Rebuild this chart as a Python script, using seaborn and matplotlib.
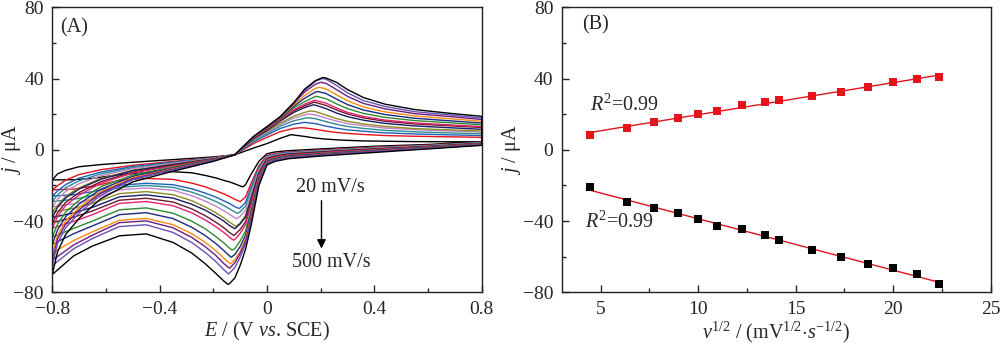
import numpy as np
import pandas as pd
import matplotlib
matplotlib.use("Agg")
import matplotlib.pyplot as plt
import seaborn as sns
from matplotlib.ticker import MultipleLocator, FixedLocator, FixedFormatter

# ---------------- data ----------------
scan_rates = [20, 40, 60, 80, 100, 120, 150, 180, 200, 250, 300, 350, 400, 450, 500]

# potential nodes of the forward (anodic) and reverse (cathodic) sweeps, V vs SCE
E_fwd = [-0.8, -0.78, -0.75, -0.7, -0.62, -0.5, -0.35, -0.2, -0.12, -0.05, 0.0, 0.05,
         0.1, 0.14, 0.18, 0.22, 0.26, 0.3, 0.36, 0.44, 0.55, 0.68, 0.8]
E_rev = [0.8, 0.6, 0.4, 0.2, 0.08, 0.03, 0.0, -0.03, -0.06, -0.08, -0.1, -0.12,
         -0.14, -0.16, -0.19, -0.23, -0.28, -0.35, -0.45, -0.55, -0.65, -0.72, -0.8]

# peak positions / currents (uA)
Epa = [0.09, 0.125, 0.14, 0.15, 0.155, 0.16, 0.17, 0.175, 0.178, 0.185, 0.19, 0.195, 0.2, 0.205, 0.208]
Ipa = [8.5, 12.4, 15.4, 18.0, 20.1, 21.8, 25.2, 26.7, 27.8, 30.0, 32.7, 35.1, 37.9, 40.0, 40.6]
Epc = [-0.09, -0.10, -0.105, -0.11, -0.113, -0.116, -0.12, -0.123, -0.125, -0.13, -0.133, -0.136, -0.14, -0.143, -0.146]
Ipc = [-20.8, -29.1, -32.9, -35.7, -38.7, -43.0, -44.3, -48.1, -50.7, -56.3, -60.3, -64.0, -66.5, -69.7, -75.5]

# forward sweep currents at E_fwd
fwd_20 = [-16.9, -13.5, -11.5, -9.5, -8.3, -7.0, -5.5, -4.0, -2.8, 1.0, 3.5, 6.5, 8.3, 7.5, 6.6, 6.0, 5.6, 5.3, 5.0, 4.8, 4.6, 4.5, 4.5]
fwd_40 = [-22.5, -20.1, -17.0, -13.9, -11.2, -8.7, -6.5, -4.4, -2.8, 3.5, 7.0, 10.2, 12.0, 12.3, 11.5, 10.5, 9.7, 9.2, 8.6, 8.0, 7.6, 7.3, 7.0]
fwd_60 = [-26.0, -23.1, -19.5, -15.9, -12.5, -9.4, -6.9, -4.6, -2.8, 4.5, 8.3, 12.0, 14.4, 15.4, 14.7, 13.3, 12.1, 11.2, 10.4, 9.5, 8.9, 8.4, 8.0]
fwd_80 = [-29.0, -25.3, -21.3, -17.4, -13.5, -10.0, -7.3, -4.7, -2.8, 5.2, 9.2, 13.3, 16.3, 17.7, 17.5, 15.8, 14.3, 13.1, 12.0, 10.9, 10.1, 9.5, 9.0]
fwd_100 = [-32.0, -27.7, -23.3, -19.0, -14.6, -10.6, -7.6, -4.8, -2.8, 5.7, 9.9, 14.3, 17.8, 19.6, 19.6, 17.8, 16.1, 14.7, 13.5, 12.2, 11.3, 10.6, 10.0]
fwd_120 = [-35.0, -31.2, -26.1, -21.3, -16.1, -11.5, -8.1, -5.0, -2.8, 6.0, 10.4, 15.0, 18.9, 21.0, 21.5, 19.5, 17.5, 16.0, 14.5, 13.1, 11.9, 11.2, 10.5]
fwd_150 = [-38.0, -32.2, -27.0, -22.0, -16.6, -11.7, -8.3, -5.1, -2.8, 6.3, 10.9, 16.2, 21.0, 23.7, 25.1, 23.1, 20.6, 18.6, 16.6, 14.8, 13.4, 12.4, 11.5]
fwd_180 = [-41.0, -35.2, -29.5, -24.0, -17.9, -12.5, -8.7, -5.2, -2.8, 6.6, 11.3, 16.7, 21.9, 24.7, 26.6, 24.9, 22.3, 20.1, 17.9, 16.0, 14.5, 13.5, 12.5]
fwd_200 = [-44.0, -37.3, -31.2, -25.4, -18.8, -13.0, -9.1, -5.4, -2.8, 6.8, 11.6, 17.0, 22.5, 25.6, 27.8, 26.2, 23.4, 21.0, 18.7, 16.7, 15.1, 14.0, 13.0]
fwd_250 = [-49.0, -41.7, -34.9, -28.3, -20.8, -14.1, -9.7, -5.6, -2.8, 7.0, 12.0, 17.5, 23.6, 27.0, 29.9, 28.7, 25.7, 23.1, 20.4, 18.2, 16.4, 15.2, 14.0]
fwd_300 = [-53.0, -44.9, -37.5, -30.4, -22.2, -14.9, -10.2, -5.8, -2.8, 7.1, 12.3, 17.9, 24.5, 28.9, 32.4, 31.6, 28.4, 25.4, 22.3, 19.8, 17.7, 16.3, 15.0]
fwd_350 = [-58.0, -47.9, -39.9, -32.4, -23.5, -15.7, -10.6, -6.0, -2.8, 7.2, 12.6, 18.2, 25.3, 30.5, 34.4, 34.2, 30.8, 27.5, 24.0, 21.3, 19.0, 17.5, 16.0]
fwd_400 = [-62.0, -49.8, -41.6, -33.7, -24.3, -16.2, -10.9, -6.1, -2.8, 7.3, 12.8, 18.5, 26.0, 32.4, 36.8, 37.3, 33.7, 30.0, 26.0, 23.0, 20.3, 18.7, 17.0]
fwd_450 = [-65.0, -52.4, -43.7, -35.4, -25.5, -16.8, -11.3, -6.2, -2.8, 7.4, 12.9, 18.6, 26.3, 33.4, 38.4, 39.6, 36.1, 32.0, 27.6, 24.3, 21.4, 19.6, 17.8]
fwd_500 = [-70.0, -57.0, -47.5, -38.5, -27.5, -18.0, -12.0, -6.5, -2.8, 7.5, 13.0, 18.7, 26.5, 34.0, 38.8, 40.3, 37.8, 33.8, 29.3, 25.6, 22.6, 20.5, 18.8]

# reverse sweep currents at E_rev
rev_20 = [4.5, 3.0, 2.0, 0.5, -0.5, -1.2, -2.2, -6.4, -13.9, -19.6, -20.3, -19.1, -18.0, -17.2, -15.8, -14.4, -12.9, -12.3, -12.8, -14.0, -16.0, -16.8, -16.9]
rev_40 = [4.2, 2.6, 1.5, -0.1, -1.2, -2.0, -3.2, -8.8, -19.1, -26.5, -29.0, -27.8, -26.2, -24.8, -23.0, -20.8, -18.7, -16.6, -16.1, -17.2, -20.5, -22.0, -22.5]
rev_60 = [4.1, 2.4, 1.2, -0.4, -1.5, -2.4, -3.6, -9.9, -21.3, -29.5, -32.6, -31.9, -30.1, -28.7, -26.6, -24.3, -21.9, -19.6, -18.8, -19.9, -23.5, -25.2, -26.0]
rev_80 = [4.0, 2.3, 1.0, -0.6, -1.7, -2.6, -3.9, -10.6, -23.0, -31.6, -34.8, -34.9, -33.1, -31.4, -29.1, -26.5, -23.8, -21.1, -20.0, -21.1, -25.6, -27.8, -29.0]
rev_100 = [3.8, 2.2, 0.9, -0.8, -2.0, -2.9, -4.3, -11.4, -24.7, -33.9, -37.3, -38.1, -36.2, -34.3, -31.7, -28.8, -25.8, -22.7, -21.4, -22.5, -27.7, -30.3, -32.0]
rev_120 = [3.7, 2.0, 0.6, -1.1, -2.3, -3.4, -4.8, -12.6, -27.0, -36.9, -41.1, -42.7, -40.6, -38.3, -35.4, -32.1, -28.6, -25.2, -23.5, -24.6, -30.0, -32.8, -35.0]
rev_150 = [3.6, 1.9, 0.5, -1.2, -2.4, -3.5, -4.9, -12.9, -27.8, -37.8, -41.6, -44.3, -42.5, -40.1, -37.3, -33.9, -30.6, -27.1, -25.3, -26.4, -32.3, -35.4, -38.0]
rev_180 = [3.5, 1.8, 0.3, -1.5, -2.7, -3.8, -5.3, -13.9, -29.8, -40.4, -44.7, -48.0, -46.4, -43.9, -40.7, -37.0, -33.2, -29.3, -27.2, -28.3, -34.3, -37.8, -41.0]
rev_200 = [3.4, 1.6, 0.1, -1.7, -3.0, -4.1, -5.6, -14.5, -31.2, -42.1, -46.9, -50.4, -49.1, -46.5, -43.2, -39.4, -35.4, -31.4, -29.0, -30.1, -36.4, -40.2, -44.0]
rev_250 = [3.2, 1.4, -0.3, -2.1, -3.4, -4.6, -6.3, -15.8, -34.1, -45.6, -51.2, -55.5, -55.2, -52.4, -48.8, -44.4, -40.1, -35.6, -32.6, -33.7, -40.0, -44.1, -49.0]
rev_300 = [3.1, 1.2, -0.5, -2.4, -3.7, -5.0, -6.7, -16.8, -36.1, -48.0, -54.3, -58.8, -59.5, -56.7, -52.7, -48.2, -43.5, -38.6, -35.3, -36.4, -42.7, -47.1, -53.0]
rev_350 = [2.9, 1.0, -0.8, -2.7, -4.1, -5.4, -7.2, -17.6, -37.8, -50.0, -57.0, -61.8, -63.6, -60.9, -56.7, -52.0, -47.1, -42.0, -38.5, -39.6, -46.0, -50.9, -58.0]
rev_400 = [2.8, 0.9, -0.9, -2.8, -4.3, -5.6, -7.5, -18.1, -39.0, -51.4, -58.2, -63.5, -66.5, -64.0, -59.4, -54.4, -49.2, -43.8, -39.9, -40.9, -47.9, -53.4, -62.0]
rev_450 = [2.7, 0.8, -1.1, -3.1, -4.5, -5.9, -7.8, -18.8, -40.5, -53.0, -60.3, -66.2, -69.5, -67.5, -62.8, -57.6, -52.1, -46.4, -42.1, -43.1, -49.8, -55.5, -65.0]
rev_500 = [2.5, 0.5, -1.5, -3.5, -5.0, -6.5, -8.5, -20.0, -43.0, -55.9, -64.9, -72.0, -75.2, -73.8, -69.5, -64.0, -58.0, -52.0, -47.2, -48.3, -54.0, -59.5, -70.0]

curve_colors = ["#000000", "#e3141c", "#2160b4", "#2a8c97", "#c384c6", "#8c8c1e",
                "#1b1b66", "#701a2c", "#e2226e", "#2f8a2f", "#1b2a80", "#ff8a12",
                "#6c1f7c", "#6a50b8", "#000000"]

xticks_A = [-0.8, -0.4, 0.0, 0.4, 0.8]
xticklabels_A = ["\u22120.8", "\u22120.4", "0", "0.4", "0.8"]
yticks = [-80, -40, 0, 40, 80]
yticklabels = ["\u221280", "\u221240", "0", "40", "80"]
xticks_B = [5, 10, 15, 20, 25]

fwd_curves = [fwd_20, fwd_40, fwd_60, fwd_80, fwd_100, fwd_120, fwd_150, fwd_180,
              fwd_200, fwd_250, fwd_300, fwd_350, fwd_400, fwd_450, fwd_500]
rev_curves = [rev_20, rev_40, rev_60, rev_80, rev_100, rev_120, rev_150, rev_180,
              rev_200, rev_250, rev_300, rev_350, rev_400, rev_450, rev_500]

# ---------------- style ----------------
sns.set_style("ticks")
plt.rcParams["font.family"] = ["Liberation Serif", "DejaVu Serif"]
plt.rcParams["mathtext.fontset"] = "custom"
plt.rcParams["mathtext.rm"] = "Liberation Serif"
plt.rcParams["mathtext.it"] = "Liberation Serif:italic"
plt.rcParams["mathtext.bf"] = "Liberation Serif:bold"
plt.rcParams["axes.linewidth"] = 1.0
plt.rcParams["axes.edgecolor"] = "#222222"
FS = 14.5
TFS = 14

fig = plt.figure(figsize=(10, 3.46), dpi=100)
axA = fig.add_axes([0.0523, 0.1552, 0.4294, 0.8237])
axB = fig.add_axes([0.5617, 0.1552, 0.4290, 0.8237])

# ---------------- panel A ----------------
rows = []
for k, v in enumerate(scan_rates):
    lab = f"{v} mV/s"
    f = [(e, j) for e, j in zip(E_fwd, fwd_curves[k]) if abs(e - Epa[k]) > 0.004]
    f.append((Epa[k], Ipa[k]))
    f.sort(key=lambda t: t[0])
    r = [(e, j) for e, j in zip(E_rev, rev_curves[k]) if abs(e - Epc[k]) > 0.004]
    r.append((Epc[k], Ipc[k]))
    r.sort(key=lambda t: -t[0])
    for e, j in f + r:
        rows.append({"E": e, "j": j, "rate": lab})
dfA = pd.DataFrame(rows)
labels = [f"{v} mV/s" for v in scan_rates]
sns.lineplot(data=dfA, x="E", y="j", hue="rate", hue_order=labels,
             palette=dict(zip(labels, curve_colors)), sort=False, estimator=None,
             legend=False, lw=1.0, ax=axA)

axA.set_xlim(-0.8, 0.8)
axA.set_ylim(-80, 80)
axA.xaxis.set_major_locator(FixedLocator(xticks_A))
axA.xaxis.set_major_formatter(FixedFormatter(xticklabels_A))
axA.xaxis.set_minor_locator(MultipleLocator(0.2))
axA.set_xlabel(r"$E$ / (V $vs$. SCE)", fontsize=FS)
axA.text(0.018, 0.927, "(A)", transform=axA.transAxes, fontsize=FS, va="center", ha="left")
axA.text(0.237, -21, "20 mV/s", fontsize=FS, ha="center", va="center")
axA.text(0.239, -63.5, "500 mV/s", fontsize=FS, ha="center", va="center")
axA.annotate("", xy=(0.203, -57), xytext=(0.203, -27),
             arrowprops=dict(arrowstyle="-|>", color="black", lw=1.0, mutation_scale=13))

# ---------------- panel B ----------------
red = "#e3141c"
sqrt_v = np.sqrt(scan_rates)
sns.regplot(x=sqrt_v, y=Ipa, ax=axB, ci=None, marker="s", color=red,
            scatter_kws={"s": 34, "zorder": 3, "linewidths": 0, "alpha": 1},
            line_kws={"lw": 1.0, "zorder": 2})
sns.regplot(x=sqrt_v, y=Ipc, ax=axB, ci=None, marker="s", color="black",
            scatter_kws={"s": 34, "zorder": 3, "linewidths": 0, "alpha": 1},
            line_kws={"lw": 1.0, "zorder": 2, "color": red})
axB.set_xlim(3, 25)
axB.set_ylim(-80, 80)
axB.xaxis.set_major_locator(FixedLocator(xticks_B))
axB.xaxis.set_minor_locator(MultipleLocator(2.5))
axB.set_xlabel(r"$v^{1/2}$ / (mV$^{1/2}$$\cdot$$s^{-1/2}$)", fontsize=FS)
axB.text(0.047, 0.938, "(B)", transform=axB.transAxes, fontsize=FS, va="center", ha="left")
axB.text(4.45, 24.8, r"$R^2$=0.99", fontsize=FS, va="center", ha="left")
axB.text(4.2, -40.9, r"$R^2$=0.99", fontsize=FS, va="center", ha="left")

for ax in (axA, axB):
    ax.yaxis.set_major_locator(FixedLocator(yticks))
    ax.yaxis.set_major_formatter(FixedFormatter(yticklabels))
    ax.yaxis.set_minor_locator(MultipleLocator(20))
    ax.tick_params(which="both", direction="in", top=False, right=False,
                   labelsize=TFS, width=1.0)
    ax.tick_params(which="major", length=5)
    ax.tick_params(which="minor", length=3)
    ax.tick_params(axis="y", pad=6)
    ax.tick_params(axis="x", pad=6)
    ax.set_ylabel(r"$j$ / μA", fontsize=FS)
    for s in ax.spines.values():
        s.set_visible(True)
        s.set_linewidth(1.0)
axA.yaxis.set_label_coords(-0.068, 0.5)
axB.yaxis.set_label_coords(-0.09, 0.5)
axA.xaxis.set_label_coords(0.5, -0.098)
axB.xaxis.set_label_coords(0.5, -0.098)

fig.savefig("out.png", dpi=100)
